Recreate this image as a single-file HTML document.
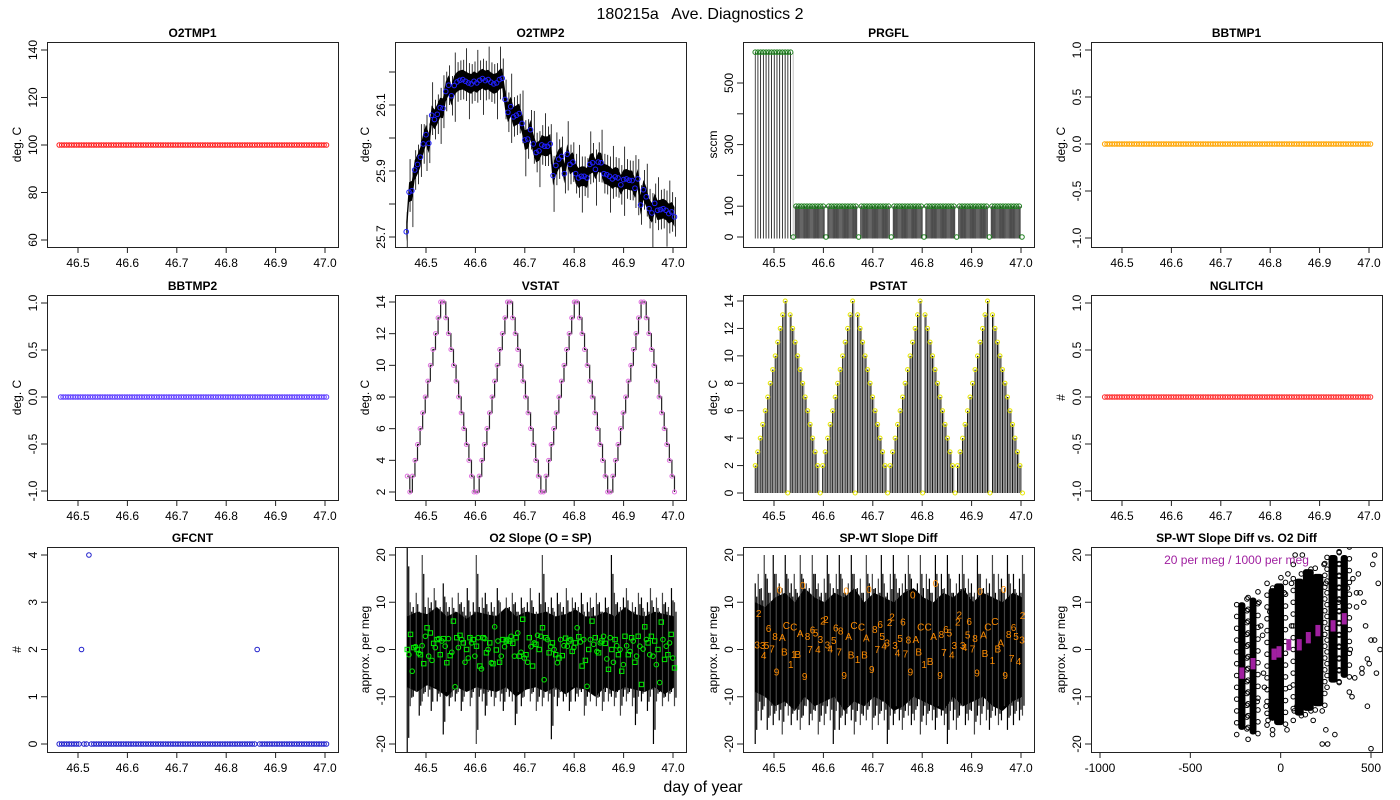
<!DOCTYPE html>
<html><head><meta charset="utf-8"><title>180215a Ave. Diagnostics 2</title>
<style>html,body{margin:0;padding:0;background:#fff}svg{display:block;font-family:"Liberation Sans",Arial,sans-serif}</style>
</head><body>
<svg id="chart" width="1400" height="800" viewBox="0 0 1400 800" xmlns="http://www.w3.org/2000/svg">
<rect x="0" y="0" width="1400" height="800" fill="#fff"/>
<defs id="defs"></defs>
<text x="700" y="19" font-size="16" text-anchor="middle" style="white-space:pre">180215a   Ave. Diagnostics 2</text>
<text x="703" y="792" font-size="16" text-anchor="middle">day of year</text>
</svg>
<script>
// ---------- data ----------
const timeTicks=[46.5,46.6,46.7,46.8,46.9,47.0];
const timeTickLabels=["46.5","46.6","46.7","46.8","46.9","47.0"];
const o2tmp1=[100,100,100,100,100,100,100,100,100,100,100,100,100,100,100,100,100,100,100,100,100,100,100,100,100,100,100,100,100,100,100,100,100,100,100,100,100,100,100,100,100,100,100,100,100,100,100,100,100,100,100,100,100,100,100,100,100,100,100,100,100,100,100,100,100,100,100,100,100,100,100,100,100,100,100,100,100,100,100,100,100,100,100,100,100,100,100,100,100,100,100,100,100,100,100,100,100,100,100,100,100,100,100,100,100,100,100,100,100];
const zeros109=[0,0,0,0,0,0,0,0,0,0,0,0,0,0,0,0,0,0,0,0,0,0,0,0,0,0,0,0,0,0,0,0,0,0,0,0,0,0,0,0,0,0,0,0,0,0,0,0,0,0,0,0,0,0,0,0,0,0,0,0,0,0,0,0,0,0,0,0,0,0,0,0,0,0,0,0,0,0,0,0,0,0,0,0,0,0,0,0,0,0,0,0,0,0,0,0,0,0,0,0,0,0,0,0,0,0,0,0,0];
const bbtmp1=zeros109.slice();
const bbtmp2=zeros109.slice();
const nglitch=zeros109.slice();
const gfcnt=[0,0,0,0,0,0,0,0,0,2,0,0,4,0,0,0,0,0,0,0,0,0,0,0,0,0,0,0,0,0,0,0,0,0,0,0,0,0,0,0,0,0,0,0,0,0,0,0,0,0,0,0,0,0,0,0,0,0,0,0,0,0,0,0,0,0,0,0,0,0,0,0,0,0,0,0,0,0,0,0,2,0,0,0,0,0,0,0,0,0,0,0,0,0,0,0,0,0,0,0,0,0,0,0,0,0,0,0,0];
const o2tmp2=[25.716,25.836,25.840,25.903,25.920,25.942,25.982,26.010,25.984,26.069,26.056,26.072,26.092,26.090,26.141,26.160,26.128,26.159,26.170,26.175,26.177,26.172,26.167,26.164,26.172,26.167,26.175,26.180,26.174,26.177,26.169,26.164,26.167,26.177,26.181,26.117,26.078,26.095,26.064,26.069,26.074,26.044,25.994,25.997,26.025,25.982,25.956,25.961,25.979,25.975,25.975,25.982,25.886,25.917,25.936,25.944,25.892,25.951,25.920,25.927,25.892,25.879,25.884,25.884,25.879,25.920,25.925,25.905,25.927,25.925,25.892,25.889,25.884,25.876,25.882,25.879,25.858,25.874,25.876,25.872,25.871,25.848,25.876,25.797,25.843,25.822,25.786,25.773,25.802,25.781,25.783,25.786,25.781,25.771,25.776,25.761];
const prgfl=[600,600,600,600,600,600,600,600,600,600,600,600,600,600,
0,100,100,100,100,100,100,100,100,100,100,100,
0,100,100,100,100,100,100,100,100,100,100,100,
0,100,100,100,100,100,100,100,100,100,100,100,
0,100,100,100,100,100,100,100,100,100,100,100,
0,100,100,100,100,100,100,100,100,100,100,100,
0,100,100,100,100,100,100,100,100,100,100,100,
0,100,100,100,100,100,100,100,100,100,100,100,0];
const vstat=[3,2,3,4,5,6,7,8,9,10,11,12,13,14,14,13,12,11,10,9,8,7,6,5,4,3,2,2,
3,4,5,6,7,8,9,10,11,12,13,14,14,13,12,11,10,9,8,7,6,5,4,3,2,2,
3,4,5,6,7,8,9,10,11,12,13,14,14,13,12,11,10,9,8,7,6,5,4,3,2,2,
3,4,5,6,7,8,9,10,11,12,13,14,14,13,12,11,10,9,8,7,6,5,4,3,2];
const pstat=[2,3,4,5,6,7,8,9,10,11,12,13,14,0,13,12,11,10,9,8,7,6,5,4,3,2,0,
2,3,4,5,6,7,8,9,10,11,12,13,14,0,13,12,11,10,9,8,7,6,5,4,3,2,0,
2,3,4,5,6,7,8,9,10,11,12,13,14,0,13,12,11,10,9,8,7,6,5,4,3,2,0,
2,3,4,5,6,7,8,9,10,11,12,13,14,0,13,12,11,10,9,8,7,6,5,4,3,2,0];
// O2 slope
const slopePts=[0,-1.1,3.2,-4.6,0.4,0.6,0,-0.8,-1.1,0.8,-3,2.8,4.6,-1.4,3.5,-2.3,1.3,0.4,2.1,2.3,-1.1,1.8,2.3,0.7,-2.8,2.3,-1.3,-0.6,6,-7.9,2.5,0.4,3,2.1,1.4,-2.7,0,-1.8,2.5,1.4,2.1,-1.4,0.7,2.5,-3.5,-4.1,2.5,2.3,-0.7,0,1.4,-2.8,-3,4.8,-0.1,1.8,-2.7,-1.4,2.1,0.6,1.8,2.1,1.8,2.8,1.3,-1.4,2.5,3.5,-1.4,-0.6,6.4,-1.8,-1.1,-2.7,2.5,0.6,-3.5,1.4,1.1,3,0,2.8,4.6,-6.4,2.5,2.1,-0.7,0.6,1.4,0,-1.1,-2.8,-1.8,2.1,-1.3,0.8,2.4,0.7,1.8,2.1,-0.4,0.4,1.4,4.6,2.7,1.6,-3.5,2.1,-2.3,-7.8,0,2.1,6,1.1,2.5,-0.4,-0.7,1.4,1.8,2.8,1.3,-2,-4.2,2.5,0,-2.7,2.1,0.8,-1.1,0,-4.6,-3.2,2.8,0.8,-1.1,-0.4,2.5,1.8,-2.7,-1.4,2.8,0.7,-7.4,0.1,4.8,2.1,1.4,-1.1,2.8,-1.4,1.8,-3.2,0,-7,5.8,2.1,-2.1,0.7,-1.1,1.4,3.2,-1.8,-3.9];
const slopeBodyHi=[7,8,7.5,9,7,8,6.5,8,7.5,7,9,7,8,7.5,8,7,7.5,8.5,7,7,8,7,9,7.5,7,8,7.5,7];
const slopeBodyLo=[-8,-9,-7.5,-8.5,-10,-8,-9,-8,-8.5,-9,-8,-10,-8.5,-8,-9,-8,-9.5,-8,-8.5,-10,-8,-9,-8,-8.5,-9,-8,-9.5,-8];
const slopeHi=[22,10,9,12,8,20,9,11,10,13,8,9,14,10,9,11,8,12,10,9,13,8,10,20,9,11,12,8,10,9,13,10,8,11,9,12,10,8,11,9,10,13,9,8,12,20,10,9,11,8,12,10,9,13,8,11,10,9,12,8,10,11,9,12,10,8,11,9,20,12,10,9,11,13,8,10,9,12,11,8,10,13,9,11,8,12,10,9,13,10];
const slopeLo=[-22,-12,-10,-9,-14,-11,-9,-10,-13,-8,-11,-10,-18,-9,-12,-10,-11,-9,-13,-10,-8,-12,-9,-20,-10,-11,-14,-9,-10,-12,-8,-11,-13,-9,-10,-11,-16,-9,-12,-10,-8,-11,-9,-13,-10,-12,-9,-11,-19,-10,-12,-9,-11,-10,-13,-8,-11,-10,-9,-14,-10,-11,-9,-12,-10,-13,-9,-11,-10,-12,-9,-14,-10,-11,-9,-12,-16,-10,-11,-9,-13,-10,-20,-11,-9,-12,-10,-11,-9,-12];
// SP-WT slope diff
const diffBodyHi=[10,9,11,12,10,13,11,10,12,11,13,10,12,11,10,12,13,11,10,12,11,13,10,12,11,10,12,11];
const diffBodyLo=[-9,-10,-12,-11,-13,-10,-12,-11,-10,-13,-11,-12,-10,-11,-13,-12,-10,-11,-12,-13,-10,-12,-11,-10,-12,-13,-11,-10];
const diffHi=[14,16,13,20,15,12,20,16,14,13,20,15,14,16,12,20,15,14,13,20,16,14,12,15,20,14,13,16,20,15,12,14,20,16,13,15,12,20,14,16,13,15,20,14,12,16,20,15,13,14,16,20,15,12,14,20,13,16,15,12,20,14,16,13,20,15,12,14,16,20,13,15,14,12,20,16,13,15,14,20,12,16,15,13,20,14,16,12,15,20];
const diffLo=[-20,-13,-15,-12,-17,-14,-16,-13,-15,-18,-12,-14,-16,-13,-15,-17,-14,-12,-16,-15,-13,-18,-14,-16,-12,-15,-20,-13,-17,-14,-16,-12,-15,-18,-13,-16,-14,-15,-12,-17,-14,-16,-13,-15,-20,-14,-16,-12,-15,-17,-13,-14,-16,-15,-12,-18,-14,-16,-13,-15,-17,-12,-14,-16,-20,-13,-15,-17,-14,-12,-16,-15,-13,-18,-14,-16,-12,-15,-17,-13,-14,-16,-15,-12,-17,-14,-16,-13,-15,-14];
const diffLabelT=[46.466,46.469,46.477,46.479,46.485,46.489,46.496,46.502,46.505,46.511,46.517,46.521,46.525,46.534,46.540,46.540,46.548,46.553,46.558,46.562,46.568,46.573,46.578,46.584,46.589,46.594,46.599,46.605,46.608,46.614,46.621,46.625,46.632,46.635,46.642,46.646,46.651,46.656,46.662,46.669,46.677,46.683,46.687,46.692,46.698,46.704,46.709,46.715,46.719,46.723,46.729,46.734,46.739,46.745,46.750,46.755,46.761,46.766,46.772,46.776,46.781,46.787,46.793,46.797,46.804,46.812,46.816,46.823,46.827,46.836,46.839,46.844,46.848,46.855,46.860,46.865,46.872,46.875,46.882,46.886,46.892,46.895,46.902,46.907,46.911,46.917,46.924,46.927,46.933,46.942,46.947,46.953,46.959,46.965,46.968,46.975,46.981,46.985,46.990,46.995,47.002,47.003];
const diffLabelV=[0.9,7.6,0.8,-1.3,0.8,4.4,0.1,2.8,-4.8,12.6,2.5,-0.5,5.1,-3.2,4.8,-1.1,-1.1,3.4,13.5,-5.7,2.8,0,4.1,3.5,0,2.1,6.0,6.4,1.0,0.1,1.9,4.6,-0.5,3.9,-5.5,12.4,2.8,-1.2,5.1,-2.1,4.8,-1.2,2.4,12.7,-4.2,4.2,0,5.3,2.8,0.7,1.4,5.7,6.9,0.8,-0.7,2.3,5.8,-0.9,2.0,-4.8,11.5,2.1,-0.5,4.8,-3.2,4.8,-2.5,2.7,14.0,-5.5,3.2,-0.6,4.2,3.5,-1.2,0.8,5.8,7.3,0.8,0.4,3.1,5.9,0.1,2.3,-5.0,12.3,3.1,-0.8,4.8,-2.3,5.9,0.1,1.4,12.7,-5.5,3.2,-1.9,4.7,2.7,-2.5,2.0,7.2];
const diffLabelC=["3","2","3","4","5","6","7","8","9","0","A","B","C","1","C","1","B","A","0","9","8","7","6","5","4","3","2","2","3","4","5","6","7","8","9","0","A","B","C","1","C","B","A","0","9","8","7","6","5","4","3","2","2","3","4","5","6","7","8","9","0","A","B","C","1","C","B","A","0","9","8","7","6","5","4","3","2","2","3","4","5","6","7","8","9","0","A","B","C","1","C","B","A","0","9","8","7","6","5","4","3","2"];
// scatter
const clX=[-215,-153,-37,-9,103,153,206,290,352];
const clLo=[-17,-18,-15,-16,-14,-13,-12,-7,-6];
const clHi=[10,11,13,14,15,17,16,20,20];
const clSpread=[40,38,60,55,50,60,60,50,40];
const outX=[-120,-95,-80,-60,-110,-70,-45,20,35,50,60,70,80,-20,40,75,120,130,180,230,240,250,260,300,320,380,400,420,430,450,470,480,500,510,520,540,395,410,440,460,490,530,550,370,385,480,500,-100,-90,-130,60,90,230,250,420,450,520];
const outY=[10,-5,-12,8,5,-15,-18,12,-17,-8,14,18,20,-14,16,-13,20,-10,-15,-13,18,14,-20,-18,10,-9,15,12,16,-5,5,-12,2,18,20,14,-10,-6,12,10,-3,-5,0,13,0,-2,-21,3,-8,-11,5,-12,-20,-17,9,-4,2];
const mgX=[-215,-153,-37,-9,45,103,153,206,290,352];
const mgY=[-5,-3,-1,-0.5,1,1,2.5,4,5,6.5];
const mgC=["6","1","3","4","3","1","2","5","8","6"];

// ---------- drawing ----------
const NS="http://www.w3.org/2000/svg";
const svg=document.getElementById('chart');
const defs=document.getElementById('defs');
function el(tag,attrs,parent,name){
  const e=document.createElementNS(NS,tag);
  for(const k in attrs) e.setAttribute(k,attrs[k]);
  
  
  parent.appendChild(e);
  return e;
}
function txt(s,attrs,parent,name){const e=el('text',attrs,parent,name);e.textContent=s;return e;}
function spaced(n,a,b){const r=[];for(let i=0;i<n;i++)r.push(a+(b-a)*i/(n-1));return r;}
const cols=[47,395,743,1091], rows=[42,295,547], W=291, H=205;
const TX=[46.5,31,47.0,278];
function panel(c,r,key,title,ylab,yd,yt,yl,xd,xt,xl){
  const L=cols[c],T=rows[r];
  const g=el('g',{},svg,key+'-panel');
  const sx=v=>L+xd[1]+(v-xd[0])/(xd[2]-xd[0])*(xd[3]-xd[1]);
  const sy=v=>T+yd[1]+(v-yd[0])/(yd[2]-yd[0])*(yd[3]-yd[1]);
  const cp=el('clipPath',{id:'clip-'+key},defs,key+'-clip');
  el('rect',{x:L,y:T,width:W,height:H},cp,key+'-clip-rect');
  const data=el('g',{'clip-path':'url(#clip-'+key+')'},g,key+'-data');
  el('rect',{x:L+0.5,y:T+0.5,width:W,height:H,fill:'none',stroke:'#222','stroke-width':1},g,key+'-plot-frame');
  txt(title,{x:L+W/2,y:T-5,'font-size':12,'font-weight':'bold','text-anchor':'middle'},g,key+'-title');
  txt(ylab,{x:L-26,y:T+H/2,'font-size':12,'text-anchor':'middle',transform:`rotate(-90 ${L-26} ${T+H/2})`},g,key+'-y-axis-title');
  yt.forEach((v,i)=>{
    const y=sy(v);
    el('line',{x1:L-6,x2:L,y1:y,y2:y,stroke:'#222'},g,key+'-y-tick');
    if(yl[i]!=='') txt(yl[i],{x:L-10,y:y,'font-size':12,'text-anchor':'middle',transform:`rotate(-90 ${L-10} ${y})`},g,key+'-y-tick-label');
  });
  xt.forEach((v,i)=>{
    const x=sx(v);
    el('line',{x1:x,x2:x,y1:T+H,y2:T+H+6,stroke:'#222'},g,key+'-x-tick');
    txt(xl[i],{x:x,y:T+H+20,'font-size':12,'text-anchor':'middle'},g,key+'-x-tick-label');
  });
  return {data,sx,sy,L,T};
}
function circles(p,ts,vs,color,name,r){
  vs.forEach((v,i)=>{el('circle',{cx:p.sx(ts[i]),cy:p.sy(v),r:r||2.3,fill:'none',stroke:color,'stroke-width':1},p.data,name);});
}
const yt11=[-1,-0.5,0,0.5,1], yl11=["-1.0","-0.5","0.0","0.5","1.0"];
const yt20=[-20,-10,0,10,20], yl20=["-20","-10","0","10","20"];

// P1
let p=panel(0,0,'o2tmp1','O2TMP1','deg. C',[60,198,140,8],[60,80,100,120,140],["60","80","100","120","140"],TX,timeTicks,timeTickLabels);
circles(p,spaced(o2tmp1.length,46.462,47.003),o2tmp1,'#ff2020','o2tmp1-point');
// P2
p=panel(1,0,'o2tmp2','O2TMP2','deg. C',[25.7,195,26.1,63],[25.7,25.8,25.9,26.0,26.1,26.2],["25.7","","25.9","","26.1",""],TX,timeTicks,timeTickLabels);
{
  const ts=spaced(o2tmp2.length,46.46,47.003);
  let up='',dn='';
  ts.forEach((t,i)=>{up+=(i?'L':'M')+p.sx(t)+' '+p.sy(o2tmp2[i]+0.03);});
  for(let i=ts.length-1;i>=0;i--) dn+='L'+p.sx(ts[i])+' '+p.sy(o2tmp2[i]-0.03);
  el('path',{d:up+dn+'Z',fill:'#000'},p.data,'o2tmp2-raw-band');
  ts.forEach((t,i)=>{ const hi=i%4===1?0.1:0.06, lo=i%5===2?0.11:0.06;
    el('line',{x1:p.sx(t)+1,x2:p.sx(t)+1,y1:p.sy(o2tmp2[i]+hi),y2:p.sy(o2tmp2[i]-lo),stroke:'#000','stroke-width':0.8},p.data,'o2tmp2-raw-spike');});
  circles(p,ts,o2tmp2,'#2020ff','o2tmp2-point');
}
// P3
p=panel(2,0,'prgfl','PRGFL','sccm',[0,195,500,41],[0,100,200,300,400,500],["0","100","","300","","500"],TX,timeTicks,timeTickLabels);
{
  const ts=spaced(prgfl.length,46.462,47.002);
  ts.forEach((t,i)=>{
    if(prgfl[i]>100){
      el('line',{x1:p.sx(t),x2:p.sx(t),y1:p.sy(prgfl[i]),y2:p.sy(-5),stroke:'#000','stroke-width':0.7},p.data,'prgfl-raw-line');
      el('line',{x1:p.sx(t)+2.5,x2:p.sx(t)+2.5,y1:p.sy(prgfl[i]),y2:p.sy(-5),stroke:'#888','stroke-width':0.5},p.data,'prgfl-raw-line');
    } else if(prgfl[i]>0){
      for(let k=0;k<3;k++){const x=p.sx(t)+k*0.9-0.9;
        el('line',{x1:x,x2:x,y1:p.sy(prgfl[i]),y2:p.sy(-5),stroke:'#000','stroke-width':0.6},p.data,'prgfl-raw-line');}
    }
  });
  circles(p,ts,prgfl,'#208020','prgfl-point');
}
// P4
p=panel(3,0,'bbtmp1','BBTMP1','deg. C',[-1,196,1,8],yt11,yl11,TX,timeTicks,timeTickLabels);
circles(p,spaced(bbtmp1.length,46.465,47.003),bbtmp1,'#ffa500','bbtmp1-point');
// P5
p=panel(0,1,'bbtmp2','BBTMP2','deg. C',[-1,196,1,8],yt11,yl11,TX,timeTicks,timeTickLabels);
circles(p,spaced(bbtmp2.length,46.465,47.003),bbtmp2,'#6040ff','bbtmp2-point');
// P6
p=panel(1,1,'vstat','VSTAT','deg. C',[2,197,14,7],[2,4,6,8,10,12,14],["2","4","6","8","10","12","14"],TX,timeTicks,timeTickLabels);
{
  const ts=spaced(vstat.length,46.462,47.003);
  let d='';
  ts.forEach((t,i)=>{ if(i===0) d='M'+p.sx(t)+' '+p.sy(vstat[0]); else d+='H'+p.sx(t)+'V'+p.sy(vstat[i]);});
  el('path',{d:d,fill:'none',stroke:'#222','stroke-width':1.2},p.data,'vstat-line');
  circles(p,ts,vstat,'#e070e0','vstat-point',2);
}
// P7
p=panel(2,1,'pstat','PSTAT','deg. C',[0,198,14,6],[0,2,4,6,8,10,12,14],["0","2","4","6","8","10","12","14"],TX,timeTicks,timeTickLabels);
{
  const ts=spaced(pstat.length,46.462,47.003);
  ts.forEach((t,i)=>{
    if(pstat[i]>0){ for(let k=0;k<2;k++){const x=p.sx(t)+k*1.2;
      el('line',{x1:x,x2:x,y1:p.sy(pstat[i]),y2:p.sy(0),stroke:k?'#777':'#000','stroke-width':0.9},p.data,'pstat-raw-line');}}
  });
  circles(p,ts,pstat,'#e8e800','pstat-point',2);
}
// P8
p=panel(3,1,'nglitch','NGLITCH','#',[-1,196,1,8],yt11,yl11,TX,timeTicks,timeTickLabels);
circles(p,spaced(nglitch.length,46.465,47.003),nglitch,'#ff3030','nglitch-point');
// P9
p=panel(0,2,'gfcnt','GFCNT','#',[0,197,4,8],[0,1,2,3,4],["0","1","2","3","4"],TX,timeTicks,timeTickLabels);
circles(p,spaced(gfcnt.length,46.462,47.003),gfcnt,'#2020cc','gfcnt-point');
// P10
function noisePanel(p,bodyHi,bodyLo,hi,lo,key){
  const tb=spaced(bodyHi.length,46.462,47.003);
  let d='';
  tb.forEach((t,i)=>{d+=(i?'L':'M')+p.sx(t)+' '+p.sy(bodyHi[i]);});
  for(let i=tb.length-1;i>=0;i--) d+='L'+p.sx(tb[i])+' '+p.sy(bodyLo[i]);
  el('path',{d:d+'Z',fill:'#000'},p.data,key+'-raw-band');
  const ts=spaced(hi.length,46.462,47.003);
  ts.forEach((t,i)=>{el('line',{x1:p.sx(t),x2:p.sx(t),y1:p.sy(hi[i]),y2:p.sy(lo[i]),stroke:i%2?'#444':'#000','stroke-width':1.2},p.data,key+'-raw-spike');
    el('line',{x1:p.sx(t)+1.5,x2:p.sx(t)+1.5,y1:p.sy(hi[i]*0.8),y2:p.sy(lo[i]*0.85),stroke:'#000','stroke-width':1.2},p.data,key+'-raw-spike');});
}
p=panel(1,2,'o2-slope','O2 Slope (O = SP)','approx. per meg',[-20,197,20,8],yt20,yl20,TX,timeTicks,timeTickLabels);
noisePanel(p,slopeBodyHi,slopeBodyLo,slopeHi,slopeLo,'o2-slope');
{
  const ts=spaced(slopePts.length,46.462,47.003);
  slopePts.forEach((v,i)=>{
    if(i%2) el('circle',{cx:p.sx(ts[i]),cy:p.sy(v),r:2.3,fill:'none',stroke:'#00ee00'},p.data,'o2-slope-point');
    else el('rect',{x:p.sx(ts[i])-2.2,y:p.sy(v)-2.2,width:4.4,height:4.4,fill:'none',stroke:'#00ee00'},p.data,'o2-slope-point');
  });
}
// P11
p=panel(2,2,'spwt-diff','SP-WT Slope Diff','approx. per meg',[-20,197,20,8],yt20,yl20,TX,timeTicks,timeTickLabels);
noisePanel(p,diffBodyHi,diffBodyLo,diffHi,diffLo,'spwt-diff');
diffLabelC.forEach((c,i)=>{txt(c,{x:p.sx(diffLabelT[i]),y:p.sy(diffLabelV[i])+3.5,'font-size':10,fill:'#ff8c00','text-anchor':'middle'},p.data,'spwt-diff-label');});
// P12
p=panel(3,2,'slope-vs-o2','SP-WT Slope Diff vs. O2 Diff','approx. per meg',[-20,197,20,8],yt20,yl20,[-1000,9,500,280],[-1000,-500,0,500],["-1000","-500","0","500"]);
clX.forEach((x,i)=>{
  const x0=p.sx(x-clSpread[i]/2), x1=p.sx(x+clSpread[i]/2);
  el('rect',{x:x0,y:p.sy(clHi[i]),width:x1-x0,height:p.sy(clLo[i])-p.sy(clHi[i]),fill:'#000',rx:3},p.data,'scatter-cluster');
  for(let v=clLo[i]-1;v<=clHi[i]+1;v+=2.5){
    el('circle',{cx:x0-1.5,cy:p.sy(v),r:2.3,fill:'none',stroke:'#000'},p.data,'scatter-point');
    el('circle',{cx:x1+1.5,cy:p.sy(v+1.2),r:2.3,fill:'none',stroke:'#000'},p.data,'scatter-point');
  }
});
outX.forEach((x,i)=>{el('circle',{cx:p.sx(x),cy:p.sy(outY[i]),r:2.3,fill:'none',stroke:'#000'},p.data,'scatter-point');});
mgX.forEach((x,i)=>{
  el('rect',{x:p.sx(x)-2.5,y:p.sy(mgY[i]+1.2),width:5,height:p.sy(mgY[i]-1.2)-p.sy(mgY[i]+1.2),fill:'#a020a0'},p.data,'scatter-mean-marker');
  txt(mgC[i],{x:p.sx(x),y:p.sy(mgY[i])+4,'font-size':10,fill:'#a020a0','text-anchor':'middle'},p.data,'scatter-mean-label');
});
txt('20 per meg / 1000 per meg',{x:p.L+W/2,y:p.T+17,'font-size':12,fill:'#a020a0','text-anchor':'middle'},p.data,'scale-annotation');
</script>
</body></html>
